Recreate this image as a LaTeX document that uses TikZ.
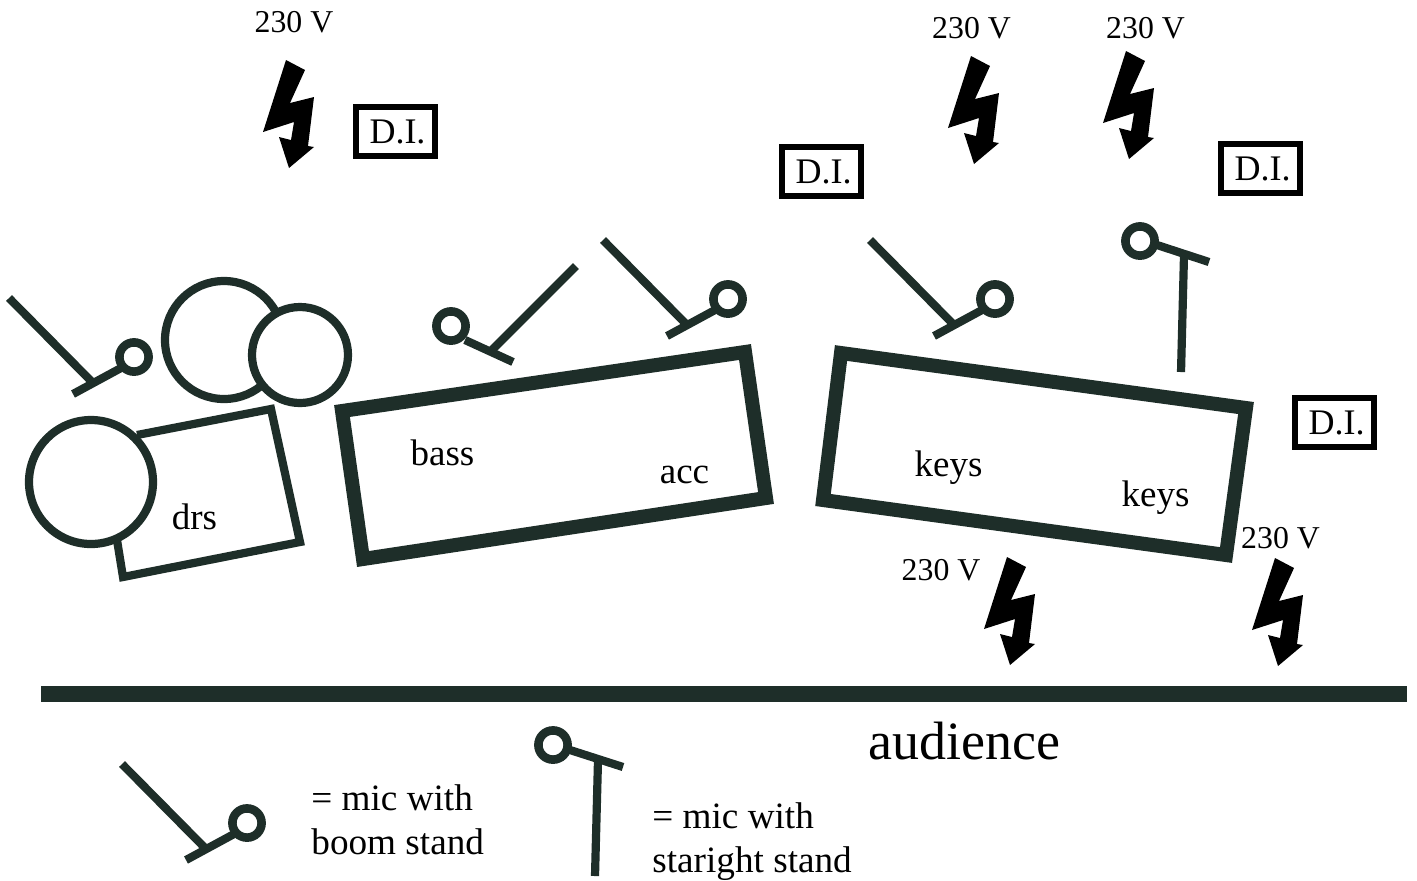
\documentclass[tikz,border=0pt]{standalone}
\usepackage{fontspec}
\setmainfont{Liberation Serif}
\definecolor{ink}{HTML}{1E2E29}
\newcommand{\ditext}{\hspace*{2pt}D.I.}
\tikzset{
  x=0.5pt,y=-0.5pt,
  micline/.style={draw=ink,line width=4.1pt},
  micring/.style={draw=ink,line width=4.3pt,fill=white},
  stage/.style={draw=ink,line width=7pt,fill=white,miter limit=10},
  kit/.style={draw=ink,line width=4.1pt,fill=white},
  dibox/.style={draw=black,line width=2.8pt,fill=white,minimum width=39.6pt,minimum height=24.6pt,inner sep=0pt,font=\fontsize{18}{20}\selectfont},
  volt/.style={font=\fontsize{15.9}{18}\selectfont,inner sep=0pt,text=black},
  lab/.style={font=\fontsize{18.5}{21}\selectfont,inner sep=0pt,text=black},
  legendtxt/.style={font=\fontsize{18.6}{22}\selectfont,inner sep=0pt,align=left,text=black,anchor=north west},
  bolt/.pic={\fill[black] (286,60)--(305,70)--(290,103)--(314,97)--(308,146)--(314,147)--(289,168)--(279,137)--(291,140)--(294,122)--(263,132)--cycle;},
  boommic/.pic={
    \draw[micline] (8,298)--(93,384);
    \draw[micline] (72,394)--(120,368);
    \draw[micring] (133,357) circle (14.6);},
}
\begin{document}
\begin{tikzpicture}
\useasboundingbox (0,0) rectangle (1417,880);
% stages
\draw[stage] (342,411)--(745,352)--(766,498)--(363,559)--cycle;
\draw[stage] (841,353)--(1246,408)--(1226,555)--(823,500)--cycle;
% drum kit
\draw[kit] (137,435)--(271,409)--(300,542)--(123,577)--(117,540);
\draw[kit] (91,482) circle (62);
\draw[kit] (224,340) circle (59);
\draw[kit] (300,355) circle (48);
% boom mics
\pic at (1,0) {boommic};
\pic at (595,-58) {boommic};
\pic at (862,-58) {boommic};
\pic at (114,466) {boommic};
% mirrored boom mic
\draw[micline] (576,266)--(492,350);
\draw[micline] (465,340)--(513,362);
\draw[micring] (451,326) circle (14.6);
% straight mics
\draw[micline] (1184,255)--(1181,372);
\draw[micline] (1157,245)--(1209,262);
\draw[micring] (1140,241) circle (14.6);
\draw[micline] (598,760)--(595,876);
\draw[micline] (570,750)--(623,767);
\draw[micring] (553,745) circle (14.6);
% power
\pic at (0,0) {bolt};
\pic at (685,-4) {bolt};
\pic at (840,-9) {bolt};
\pic at (721,497) {bolt};
\pic at (989,498) {bolt};
% audience line
\fill[ink] (41,686) rectangle (1407,702);
% D.I.
\node[dibox] (di1) at (395.5,131.5) {\ditext};
\node[dibox] (di2) at (821.5,171.5) {\ditext};
\node[dibox] (di3) at (1260.5,168.5) {\ditext};
\node[dibox] (di4) at (1334.5,422.5) {\ditext};
% 230 V
\node[volt] (v1) at (294,22) {230 V};
\node[volt] (v2) at (971.5,28) {230 V};
\node[volt] (v3) at (1145.5,28) {230 V};
\node[volt] (v4) at (941,570) {230 V};
\node[volt] (v5) at (1280.5,538) {230 V};
% labels
\node[lab] (drs) at (194.5,517) {drs};
\node[lab] (bass) at (442.5,453) {bass};
\node[lab] (acc) at (684.5,475) {acc};
\node[lab] (k1) at (948.5,468) {keys};
\node[lab] (k2) at (1155.5,498) {keys};
\node[font=\fontsize{27}{30}\selectfont,inner sep=0pt] (aud) at (964.5,741) {audience};
\node[legendtxt] (l1) at (311,784) {= mic with\\boom stand};
\node[legendtxt] (l2) at (652,802) {= mic with\\staright stand};
\end{tikzpicture}
\end{document}
